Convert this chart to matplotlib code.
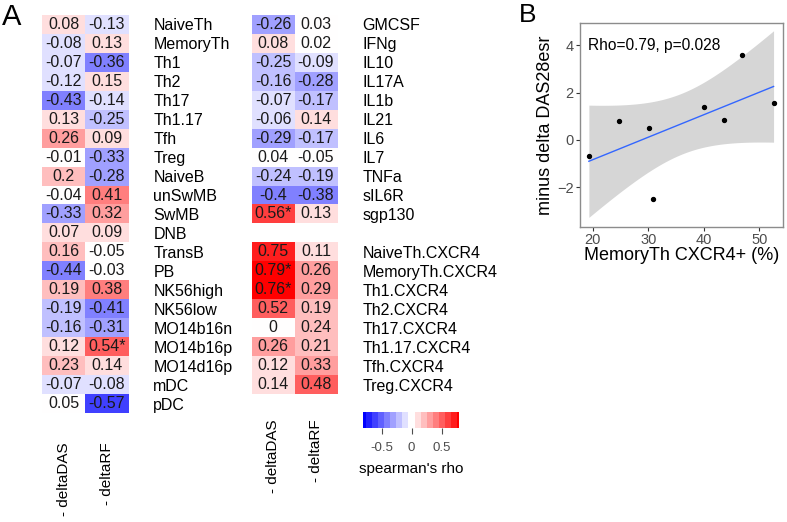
import numpy as np
import matplotlib
matplotlib.use("Agg")
import matplotlib.pyplot as plt
from matplotlib.colors import ListedColormap, BoundaryNorm, LinearSegmentedColormap

plt.rcParams['font.family'] = ['Liberation Sans', 'DejaVu Sans']

# ---- panel A data ----
left_rows = ["NaiveTh", "MemoryTh", "Th1", "Th2", "Th17", "Th1.17", "Tfh", "Treg",
             "NaiveB", "unSwMB", "SwMB", "DNB", "TransB", "PB", "NK56high", "NK56low",
             "MO14b16n", "MO14b16p", "MO14d16p", "mDC", "pDC"]
left_das = [0.08, -0.08, -0.07, -0.12, -0.43, 0.13, 0.26, -0.01, 0.2, -0.04, -0.33,
            0.07, 0.16, -0.44, 0.19, -0.19, -0.16, 0.12, 0.23, -0.07, 0.05]
left_rf = [-0.13, 0.13, -0.36, 0.15, -0.14, -0.25, 0.09, -0.33, -0.28, 0.41, 0.32,
           0.09, -0.05, -0.03, 0.38, -0.41, -0.31, 0.54, 0.14, -0.08, -0.57]
left_sig = [("MO14b16p", 1)]

mid_rows = ["GMCSF", "IFNg", "IL10", "IL17A", "IL1b", "IL21", "IL6", "IL7", "TNFa",
            "sIL6R", "sgp130", "", "NaiveTh.CXCR4", "MemoryTh.CXCR4", "Th1.CXCR4",
            "Th2.CXCR4", "Th17.CXCR4", "Th1.17.CXCR4", "Tfh.CXCR4", "Treg.CXCR4"]
mid_das = [-0.26, 0.08, -0.25, -0.16, -0.07, -0.06, -0.29, 0.04, -0.24, -0.4, 0.56,
           np.nan, 0.75, 0.79, 0.76, 0.52, 0, 0.26, 0.12, 0.14]
mid_rf = [0.03, 0.02, -0.09, -0.28, -0.17, 0.14, -0.17, -0.05, -0.19, -0.38, 0.13,
          np.nan, 0.11, 0.26, 0.29, 0.19, 0.24, 0.21, 0.33, 0.48]
mid_sig = [("sgp130", 0), ("MemoryTh.CXCR4", 0), ("Th1.CXCR4", 0)]

col_labels = ["- deltaDAS", "- deltaRF"]

# ---- panel B data ----
memth_cxcr4 = [19.3, 24.8, 30.1, 30.9, 40.1, 43.6, 46.9, 52.6]
minus_das28 = [-0.69, 0.80, 0.52, -2.49, 1.39, 0.83, 3.59, 1.54]
rho_text = "Rho=0.79, p=0.028"

W, H = 787, 522
fig = plt.figure(figsize=(W / 100, H / 100), dpi=100)


def px_axes(x0, y0, x1, y1):
    return fig.add_axes([x0 / W, 1 - y1 / H, (x1 - x0) / W, (y1 - y0) / H])


# discrete blue-white-red scale, white bin around zero
base = LinearSegmentedColormap.from_list("bwr3", ["#0000FF", "#FFFFFF", "#FF0000"])
cmap = ListedColormap(base(np.linspace(0, 1, 17)))
cmap.set_bad((1, 1, 1, 0))
half = np.arange(0.055, 0.9, 0.1)
edges = np.concatenate([-half[::-1], half])
norm = BoundaryNorm(edges, cmap.N, clip=True)


def heatmap(ax, rows, das, rf, sig, pad_cols):
    data = np.ma.masked_invalid(np.column_stack([das, rf]))
    ax.imshow(data, cmap=cmap, norm=norm, aspect='auto', interpolation='nearest')
    for i in range(len(rows)):
        for j, v in enumerate([das[i], rf[i]]):
            if np.isnan(v):
                continue
            s = f"{v:g}"
            if (rows[i], j) in sig:
                s += "*"
            ax.text(j, i, s, ha='center', va='center', fontsize=11.5, color='#1a1a1a')
    ax.yaxis.tick_right()
    ax.set_yticks(range(len(rows)))
    ax.set_yticklabels(rows, fontsize=11.5)
    ax.tick_params(axis='y', length=0, pad=18)
    ax.set_xticks([0, 1])
    ax.set_xticklabels(col_labels, rotation=90, fontsize=11, va='top')
    ax.tick_params(axis='x', length=0, pad=pad_cols)
    for sp in ax.spines.values():
        sp.set_visible(False)


ax_l = px_axes(42.3, 15, 128.3, 413)
heatmap(ax_l, left_rows, left_das, left_rf, left_sig, 21.5)
ax_m = px_axes(251.7, 15, 337.3, 394)
heatmap(ax_m, mid_rows, mid_das, mid_rf, mid_sig, 18.5)

# colorbar
ax_c = px_axes(363, 412, 459, 428)
centers = (edges[:-1] + edges[1:]) / 2
ax_c.pcolormesh(edges, [0, 1], centers[np.newaxis, :], cmap=cmap, norm=norm)
ax_c.set_xlim(-0.81, 0.79)
ax_c.set_ylim(0, 1)
ax_c.set_yticks([])
ax_c.set_xticks([-0.5, 0, 0.5])
ax_c.set_xticklabels(["-0.5", "0", "0.5"], fontsize=9.5, color='#4D4D4D')
ax_c.tick_params(axis='x', length=4.5, width=0.8, color='#4D4D4D', pad=5.5)
ax_c.set_xlabel("spearman's rho", fontsize=11, labelpad=6)
for sp in ax_c.spines.values():
    sp.set_visible(False)

fig.text(2 / W, 1 - 3 / H, "A", fontsize=21, ha='left', va='top')

# ---- panel B ----
ax_b = px_axes(580, 23.3, 783, 226.7)
x = np.array(memth_cxcr4)
y = np.array(minus_das28)
slope, icpt = np.polyfit(x, y, 1)
xs = np.linspace(x.min(), x.max(), 80)
n = len(x)
resid = y - (slope * x + icpt)
s_err = np.sqrt(np.sum(resid ** 2) / (n - 2))
sxx = np.sum((x - x.mean()) ** 2)
se = s_err * np.sqrt(1 / n + (xs - x.mean()) ** 2 / sxx)
t_crit = 2.4469
fit = slope * xs + icpt
ax_b.fill_between(xs, fit - t_crit * se, fit + t_crit * se, color='#999999', alpha=0.4, lw=0)
ax_b.plot(xs, fit, color='#3366FF', lw=1)
ax_b.scatter(x, y, s=8, color='black', zorder=3)
ax_b.set_xlim(17.7, 54.3)
ax_b.set_ylim(-3.67, 4.93)
ax_b.set_xticks([20, 30, 40, 50])
ax_b.set_yticks([-2, 0, 2, 4])
ax_b.tick_params(labelsize=10.5, labelcolor='#4D4D4D', color='#333333', length=3, width=0.8, pad=1.5)
ax_b.set_xlabel("MemoryTh CXCR4+ (%)", fontsize=13, labelpad=0)
ax_b.set_ylabel("minus delta DAS28esr", fontsize=13, labelpad=2)
for sp in ax_b.spines.values():
    sp.set_color('#8c8c8c')
    sp.set_linewidth(1)
ax_b.text(0.04, 0.893, rho_text, transform=ax_b.transAxes, fontsize=11.2, va='center', ha='left')

fig.text(519 / W, 1 - 3 / H, "B", fontsize=19, ha='left', va='top')

fig.savefig("out.png", dpi=100)
